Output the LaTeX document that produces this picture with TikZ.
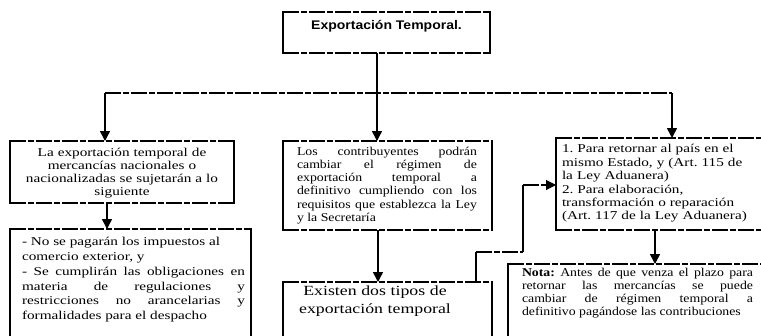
\documentclass[tikz,border=0pt]{standalone}
\usepackage{fontspec}
\setmainfont{Liberation Serif}[FakeStretch=1.15]
\newfontfamily\widefont{Liberation Serif}[FakeStretch=1.27]
\newfontfamily\headfont{Liberation Sans}[FakeStretch=1.12]
\usetikzlibrary{arrows.meta}

\hyphenpenalty=10000
\exhyphenpenalty=10000
\tolerance=10000
\frenchspacing

\tikzset{
  frame/.style={draw=none, inner sep=0pt, outer sep=0pt, anchor=north west},
  side/.style={line width=1.4pt, line cap=rect},
  rule/.style={line width=1.1pt, dash pattern=on 16pt off 2pt on 6pt off 2pt},
  feed/.style={line width=1.5pt},
  tip/.style={-{Triangle[length=10pt,width=10pt]}},
  txt/.style={inner sep=0pt, outer sep=0pt},
}
% solid sides, broken top and bottom rules
\newcommand\boxsides[1]{%
  \draw[side] (#1.north west) -- (#1.south west);
  \draw[side] (#1.north east) -- (#1.south east);
  \draw[rule] (#1.north west) -- (#1.north east);
  \draw[rule] (#1.south west) -- (#1.south east);
}

\begin{document}
\begin{tikzpicture}[x=1pt, y=-1pt]
\useasboundingbox (0,0) rectangle (761,335);
\fill[white] (0,0) rectangle (761,335);
\begin{scope}
\clip (0,0) rectangle (761,335);

% frames
\node[frame, minimum width=207pt, minimum height=41pt] (title)  at (283,12)  {};
\node[frame, minimum width=224pt, minimum height=62pt] (left1)  at (10,141)  {};
\node[frame, minimum width=209pt, minimum height=89pt] (mid1)   at (283,141) {};
\node[frame, minimum width=224pt, minimum height=92pt] (right1) at (556,138) {};
\node[frame, minimum width=241pt, minimum height=121pt] (left2) at (10,229)  {};
\node[frame, minimum width=209pt, minimum height=68pt] (mid2)   at (283,282) {};
\node[frame, minimum width=272pt, minimum height=86pt] (right2) at (508,264) {};
\boxsides{title}
\boxsides{left1}
\boxsides{mid1}
\boxsides{right1}
\boxsides{left2}
\boxsides{mid2}
\boxsides{right2}

% texts
\node[txt, anchor=base, font=\headfont\bfseries\fontsize{12.5}{15}\selectfont]
  (titletext) at (386.5,29) {Exportación Temporal.};

\node[txt, anchor=north, text width=215pt, align=center,
      font=\widefont\fontsize{12}{13}\selectfont] (left1text) at (122,147)
  {\strut La exportación temporal de\\ mercancías nacionales o\\ nacionalizadas se sujetarán a lo\\ siguiente};

\node[txt, anchor=north west, text width=180pt, align=justify,
      font=\fontsize{12}{13.3}\selectfont] (mid1text) at (297,145.7)
  {\strut Los contribuyentes podrán\linebreak cambiar el régimen de\linebreak exportación temporal a\linebreak definitivo cumpliendo con los\linebreak requisitos que establezca la Ley\linebreak y la Secretaría};

\node[txt, anchor=north west, text width=198pt, align=left,
      font=\widefont\fontsize{12}{13.4}\selectfont] (right1text) at (562,143.6)
  {\strut 1. Para retornar al país en el\\ mismo Estado, y (Art. 115 de\\ la Ley Aduanera)\\ 2. Para elaboración,\\ transformación o reparación\\ (Art. 117 de la Ley Aduanera)};

\node[txt, anchor=north west, text width=223pt, align=justify,
      font=\widefont\fontsize{12}{14.7}\selectfont] (left2text) at (22,235.7)
  {\strut - No se pagarán los impuestos al\\ comercio exterior, y\\ - Se cumplirán las obligaciones en\linebreak materia de regulaciones y\linebreak restricciones no arancelarias y\linebreak formalidades para el despacho};

\node[txt, anchor=north west, text width=231pt, align=justify,
      font=\fontsize{12}{13.3}\selectfont] (right2text) at (522,266.7)
  {\strut\textbf{Nota:} Antes de que venza el plazo para\linebreak retornar las mercancías se puede\linebreak cambiar de régimen temporal a\linebreak definitivo pagándose las contribuciones};

\node[txt, anchor=north, text width=200pt, align=center,
      font=\widefont\fontsize{14}{18}\selectfont] (mid2text) at (375,283)
  {\strut Existen dos tipos de\\ exportación temporal};

% distribution bus under the heading
\coordinate (busL) at (105,93);
\coordinate (busM) at (377,93);
\coordinate (busR) at (672,93);
\draw[feed] (title.south -| busM) -- (busM);
\draw[rule] (busL) -- (busR);
\draw[feed, tip] (busL) -- (busL |- left1.north);
\draw[feed, tip] (busM) -- (busM |- mid1.north);
\draw[feed, tip] (busR) -- (busR |- right1.north);

% drops to the second row
\coordinate (dropL) at (107,0);
\coordinate (dropM) at (378,0);
\coordinate (dropR) at (655,0);
\draw[feed, tip] (left1.south -| dropL) -- (left2.north -| dropL);
\draw[feed, tip] (mid1.south -| dropM) -- (mid2.north -| dropM);
\draw[feed, tip] (right1.south -| dropR) -- (right2.north -| dropR);

% link from the two kinds back to the list of kinds
\coordinate (k1) at (476,252);
\coordinate (k2) at (523,252);
\coordinate (k3) at (523,185);
\draw[feed] (mid2.north -| k1) -- (k1);
\draw[rule] (k1) -- (k2);
\draw[feed] (k2) -- (k3);
\draw[rule, tip] (k3) -- (k3 -| right1.west);
\end{scope}
\end{tikzpicture}
\end{document}
